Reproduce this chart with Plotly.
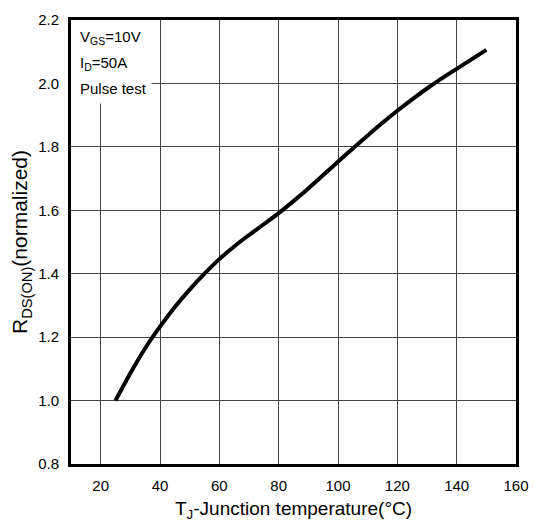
import plotly.graph_objects as go

# Data
temperature = [25, 30, 35, 40, 45, 50, 55, 60, 65, 70, 75, 80, 85, 90, 95,
               100, 105, 110, 115, 120, 125, 130, 135, 140, 145, 150]
rds_norm = [1.000, 1.086, 1.165, 1.233, 1.295, 1.350, 1.400, 1.446, 1.486, 1.522,
            1.556, 1.591, 1.629, 1.669, 1.711, 1.753, 1.795, 1.836, 1.876, 1.914,
            1.950, 1.984, 2.016, 2.046, 2.076, 2.106]

x_ticks = [20, 40, 60, 80, 100, 120, 140, 160]
y_ticks = [0.8, 1.0, 1.2, 1.4, 1.6, 1.8, 2.0, 2.2]
y_tick_text = ["0.8", "1.0", "1.2", "1.4", "1.6", "1.8", "2.0", "2.2"]

notes = ["V<sub>GS</sub>=10V", "I<sub>D</sub>=50A", "Pulse test"]
note_y = [0.960, 0.901, 0.846]

FONT = "Liberation Sans, Arial, sans-serif"

fig = go.Figure()
fig.add_trace(go.Scatter(
    x=temperature, y=rds_norm, mode="lines",
    line=dict(color="black", width=4, shape="spline", smoothing=0.6),
    showlegend=False, hoverinfo="skip",
))

fig.add_shape(type="rect", xref="x", yref="y", x0=10, x1=37.1, y0=1.937, y1=2.2,
              fillcolor="white", line=dict(width=0), layer="between")

for t, yy in zip(notes, note_y):
    fig.add_annotation(text=t, xref="paper", yref="paper", x=0.016, y=yy,
                       xanchor="left", yanchor="middle", showarrow=False,
                       font=dict(family=FONT, size=15, color="black"))

fig.update_layout(
    width=540, height=528,
    margin=dict(l=71, r=21, t=11, b=64),
    paper_bgcolor="white", plot_bgcolor="white",
    font=dict(family=FONT, color="black"),
)
fig.update_xaxes(
    range=[10, 160], tickvals=x_ticks, ticks="", showgrid=True,
    gridcolor="#444444", gridwidth=1, zeroline=False,
    showline=True, linecolor="black", linewidth=3, mirror=True,
    tickfont=dict(size=15, family=FONT), ticklabelstandoff=6,
    title=dict(text="T<sub>J</sub>-Junction temperature(°C)", font=dict(size=19, family=FONT), standoff=9),
)
fig.update_yaxes(
    range=[0.8, 2.2], tickvals=y_ticks, ticktext=y_tick_text, ticks="", showgrid=True,
    gridcolor="#444444", gridwidth=1, zeroline=False,
    showline=True, linecolor="black", linewidth=3, mirror=True,
    tickfont=dict(size=15, family=FONT), ticklabelstandoff=6,
    title=dict(text="R<sub>DS(ON)</sub>(normalized)", font=dict(size=21, family=FONT), standoff=5),
)

fig.write_html("out.html")
